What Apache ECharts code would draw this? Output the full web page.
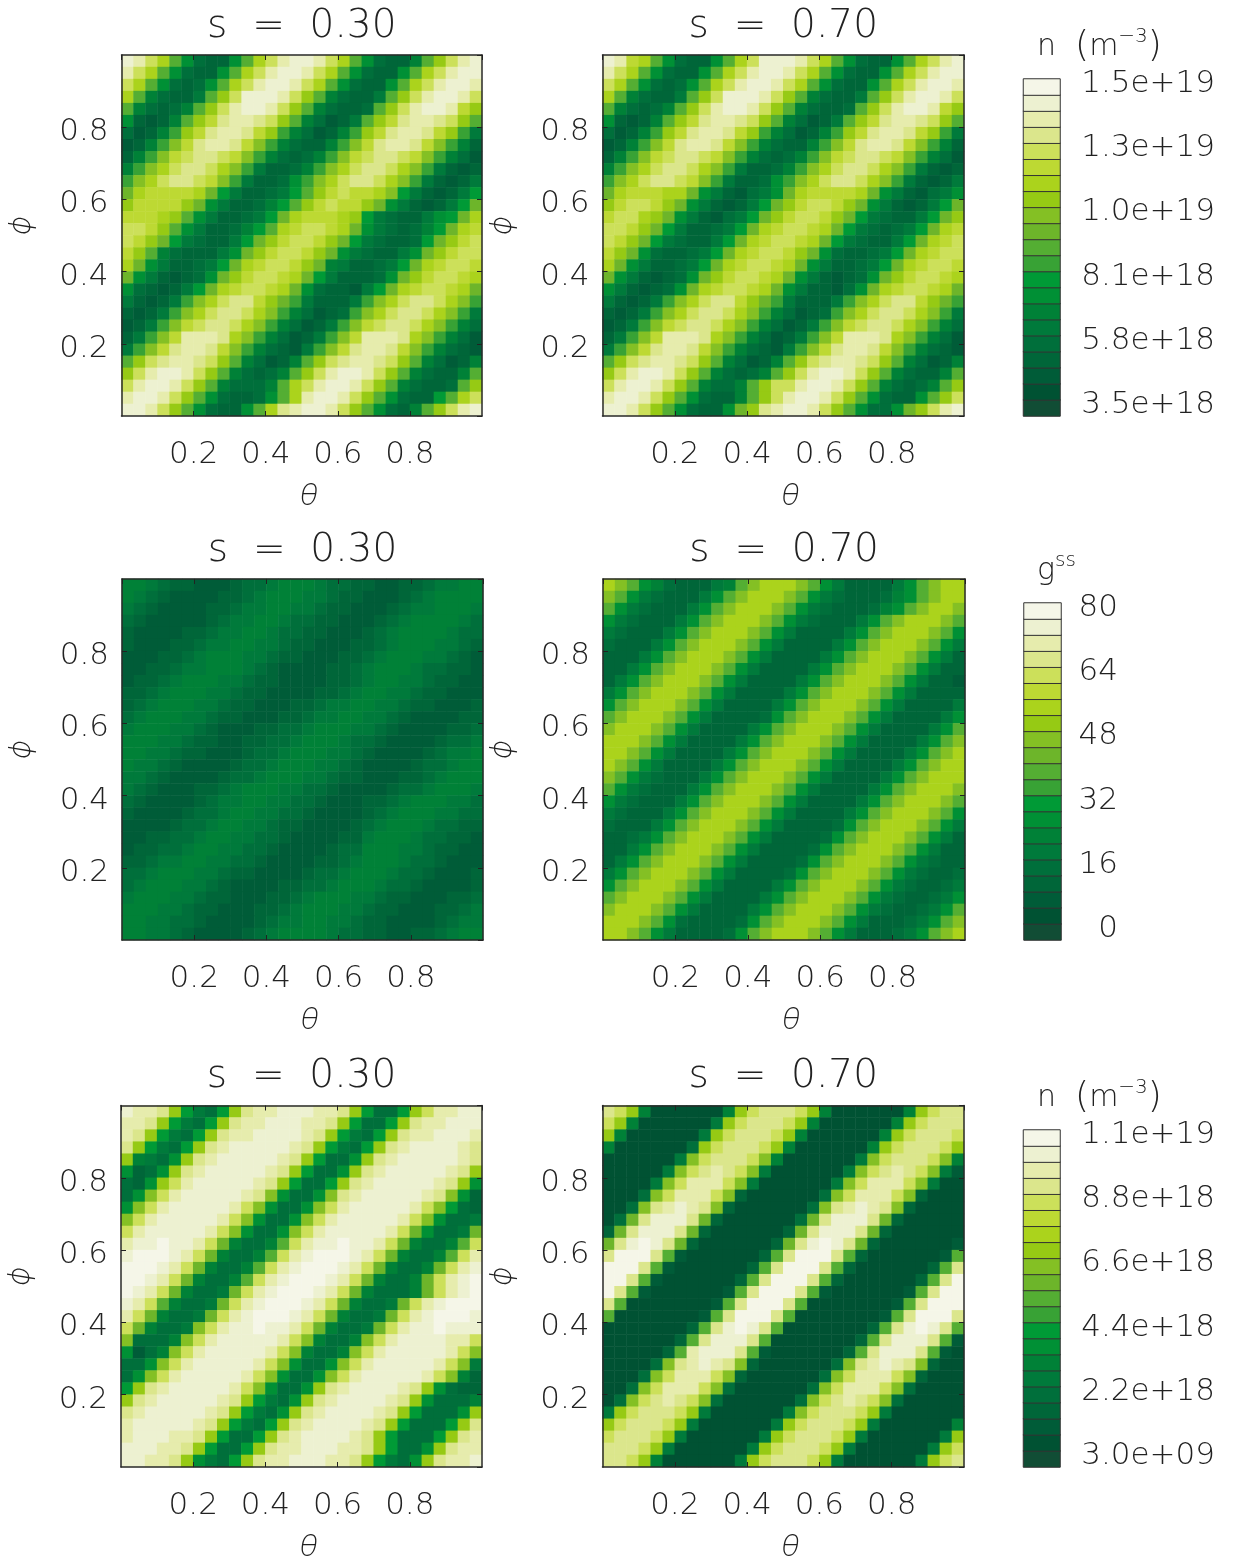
<!DOCTYPE html>
<html><head><meta charset="utf-8">
<style>html,body{margin:0;padding:0;background:#fff}#c{width:1233px;height:1559px}</style>
<script src="https://cdn.jsdelivr.net/npm/echarts@6/dist/echarts.min.js"></script>
</head><body><div id="c"></div>
<script>
// Colour-scale level (base-21 digit, 0..k) of each cell, rows listed from the top of the panel.
const densityS30 = [
"jigea74337 aegijjigea 74336adgij","igea74337a egijjigea7 4337aegijj","gea74347ae gijjigea74 337aegijji",
"ea64335adg jjjigda643 35adgijjig","a64346adgi jjigda6433 4adgijjifd","73236adfhi ihgda64235 adfhiihgda",
"42369dfhii hfd9642369 dfhiihfd95","2369cfhiih fc9643369c fhiihfc963","369cfghhgf c9643469cf ghhgfc9642",
"69ceghhgec 9533469ceg hhgec95323","9ceghhgfc9 533479cegh hgec953235","beffffeb85 33458adfgf fec8532358",
"dffffdb753 3468adfgff db7532358b","fffeda7533 458befffed 85433578be","ggfda75334 68aefggfeb 7543468bef",
"gfdb854335 8bdfggfdb8 543348bdfg","fda6433357 bdfggfdb75 43357bdfgg","eb7533458b efggfdb653 3458befggf",
"b7532347bd fggfeb8533 347bdfggfe","7432358bef ggfeb74332 58befggfeb","532359cegh hfdb953335 9ceghhgec9",
"32359ceghh gec9642349 ceghhgec95","2359cfghhg ec9642359c fghhgec964","359cfiiihe c9642359cf iiihec9642",
"59cfhiihfc 9643259cfh iihfc96432","adghiihgda 64236adghi ihgda64236","dgijjigda6 4346adgijj igda64336a",
"gijjigda64 446aegijji gda64334ad","ijjigda743 347aeijjig da74338aeg","jjigda7433 7aehijjigd a7436adgij"];
const densityS70 = [
"jifea74337 aegjjjigea 74337aegij","igea74337a egijjigea7 4337aegijj","gea74347ae gijjigea74 337aegijji",
"ea64335adg jjjigda643 35adgijjig","a64346adgi jjigda6433 4adgijjifd","73236adfhi ihgda64235 adfhiihgda",
"42369dfhii hfd9642369 dfhiihfd95","2369cfhiih fc9643369c fhiihfc963","369cfghhgf c9643469cf ghhgfc9642",
"69ceghhgec 9533469ceg hhgec95323","9ceghhgfc9 533479cegh hgec953235","befffeeb75 32457befff feb7532457",
"dfggfdb753 2358bdfggf db7532358b","fggedb7532 458bdfggfd b8543358bd","ggfdb85334 58befggfeb 8543458bef",
"gfdb854335 8befggfeb8 543358befg","fdb7433458 befggfdb74 33458befgg","eb7533458b efggfeb753 3458befggf",
"b7532347bd fggfeb7532 347bdfggfe","7532347bef ggfeb75332 47befggfeb","532359cegh hfdb953335 9ceghhfdb9",
"32359ceghh gec9642349 ceghhgec95","2359cfghhg ec9642359c fghhgec964","359cfiiihe c9642359cf iiihec9642",
"59cfhiihfc 9643259cfh iihfc96432","adghiihgda 64236adghi ihgda64236","dgijjigda6 4346adgijj igda64336a",
"gijjigda64 46adggijji gda64346ad","ijjigda743 36adgijjig da74337adg","jjigda7433 7bdhijjigd a7447bdgij"];
const metricS30 = [
"6654332223 4456665443 3223345566","6543222233 4566655433 2223456666","5432222334 5566554332 2234556665",
"4322222345 5665443322 2345666654","3222233455 6654433222 3456666544","3222334556 6554332223 3456665543",
"2223345666 5543322233 4566655432","2233455666 5432222334 5666544332","2334566655 4332222334 5665543322",
"3345666554 3322223345 6655433222","3456665543 3222334556 6554332223","4566655433 2223345566 5543222233",
"5666554322 2334456665 5432222334","6665543322 3344566654 4322223445","6655433222 3445666554 3222234556",
"6554322223 4456665543 2222344566","5543222234 4566655433 2223345666","5432223345 6665544322 2234456665",
"4322223455 6655443222 3345666554","3222234456 6554432222 3456665544","2222344566 5543322223 4566654433",
"2233445665 5443222233 5666544332","2334456655 4432222344 6665543322","3345566554 4322223345 6665443222",
"4456665543 3222234456 6654432223","4566655432 2223344566 6544322223","5666554332 2233456665 5433222334",
"6665543322 2334566655 4332223345","6655443222 2345566554 3322223455","6655432222 3456666544 3322334566"];
const metricS70 = [
"eca7643335 6aceeeca75 333357acee","ca75433357 aceeeca754 333467acee","a75433357a ceeeca7543 33467aceec",
"75433357ac eeeca75433 357aceeeca","5433357ace eeca753333 57aceeeca7","433357acee eca7533335 7aceeeca75",
"33357aceee ca75333357 aceeeca753","3357aceeec a75333357a ceeeca7533","357aceeeca 75333357ac eeeca75332",
"57aceeeca7 5333357ace eeca753333","7aceeeca75 333357acee eca7533335","aceeeca753 33347aceee ca75333357",
"ceeeca7533 3357aceeec a75333357a","eeeca75333 357aceeeca 75333357ac","eeca753333 57aceeeca7 5333357ace",
"eca7533335 7aceeeca75 333357acee","ca75433357 aceeeca753 33357aceee","a75433357a ceeeca7533 3357aceeec",
"75433357ac eeeca75333 357aceeeca","5433357ace eeca753333 57aceeeca7","433357acee eca7533334 7aceeeca75",
"33457aceee ca75333347 aceeeca753","3357aceeec a75333347a ceeeca7533","357aceeeca 75333347ac eeeca75433",
"57aceeeca7 5333347ace eeca754334","7aceeeca75 333357acee eca7543345","aceeeca753 33357aceee ca75433457",
"ceeeca7533 3357aceeec a75433457a","eeeca74333 347aceeeca 75333457ac","eeca753333 47aceeeca7 5333457ace"];
const electronS30 = [
"jiihd8548d hiijjjiihd 8448dgiijj","iihd8548dh iijjjiihd8 448dhiijjj","ihd8548dhi ijjjjihd85 48dhiijjji",
"hd8548dhij jjjjihd854 8dhijjjjih","d6547dhijj jjjihd8447 dhijjjjjih","7347dhijjj jjihd8447d hijjjjjihd",
"437dgijjjj jihd8448dh ijjjjjihd7","47cgijjjjj ihc7447chi jjjjjihc73","7cgijjjjji gc7447cgij jjjjigc843",
"cgijjjjjig c7447cgijj jjjigc7445","gijjjjjigc 7447cgijjj jjigb7445b","ijjkjjigb6 446agijjkj jigb6446ag",
"jkkkjigb64 46agijkkkj igb6446agi","kkkjigb644 6agijkkkji gb6446bgij","kkjigb6446 agijkkkjig b6446bgijk",
"kjigb6445b gijkkkjigb 64446bgijk","jiga6445bg ijkkkjigb6 445bgijkkk","igb6445bgi jkkkjigb64 45bgijkkkj",
"gb6445cgij jkjjigb644 5bgijjkjjj","c4446cgijj jjjigc6446 cgijjjjiig","7246cgijjj jjigc6446c gijjjjjigc",
"447cgijjjj jigc7447cg ijjjjjigc5","47cgijjjjj igc7447cgi jjjjjigc63","8dhijjjjji gc7447dhij jjjihd7433",
"dhijjjjjih d8547dhijj jjihd74446","hijjjjjihd 8547dhijjj jihd84447d","ijjjjjihd8 548dhijjjj ihd84448dh",
"ijjjiihd84 48dhijjjji hd84448dhi","jjjiihd844 8dhiijjjii hd8447dhii","jjiihd7548 dhiijjjiih d8547dhiij"];
const electronS70 = [
"hgd6111111 6dghhhgd61 111116dghh","gd61111115 dghhhgd611 11116dghhh","d61111115d ghhhgd6111 1116dghhhg",
"61111114dg hhhgd61111 116dghhhgd","1111115cgh hhgc611111 15cghhhgc6","111115cghi hgc5111111 5cghihgc52",
"11115cgiii gc51111115 cgiiigc511","1114cgiiig c31111114c giiigc3111","114chijihc 31111114ch ijihc31111",
"14bhjjjhb3 1111114bhj jjhb311111","3bhjjjhb31 111113bhjj jhb3111111","bhjkjhb311 11113bhjkj hb31111112",
"hkkkha2111 1113ahkkkh a31111112a","kkkha21111 113ahkkkha 31111113ah","kkha211111 13ahkkkha3 1111113ahk",
"kha2111111 2ahkkkha21 111112ahkk","ha11111112 ahkkkha111 11112ahkkk","a11111112a hkkkha1111 1112ahkkkh",
"11111113ah jkjha11111 113ahjkjha","1111113ahj jjha111111 13ahjjjha2","111113aijj jha2111111 3ahjjjha21",
"11114chiji hc31111114 chijihc311","1114cgiiig c31111114c giiigc3111","114cgiiigc 41111114cg iiigc41111",
"14cghihgc4 1111114cgh ihgc411111","5dghhhgd51 111115cghh hgd5111111","dghhhgd511 11115dghhh gd51111116",
"ghhhgd5111 1115dghhhg d51111115d","hhhgd51111 115dghhhgd 51111115dg","hhgd611111 15dghhhgd5 1111115dgh"];

const levels = ["0","1","2","3","4","5","6","7","8","9","10","11","12","13","14","15","16","17","18","19","20"];
const densityTickLabels = ["3.5e+18","5.8e+18","8.1e+18","1.0e+19","1.3e+19","1.5e+19"];
const metricTickLabels = ["0","16","32","48","64","80"];
const electronTickLabels = ["3.0e+09","2.2e+18","4.4e+18","6.6e+18","8.8e+18","1.1e+19"];
const palette = ["#114d35","#005233","#005c38","#006639","#006f3b","#007a3b","#008137","#009035","#009a36","#38a235",
"#54ae33","#6db52a","#84c024","#96ca14","#abd31c","#bdd933","#cce05a","#dbe68c","#e6ecad","#edf1d1","#f5f6e8"];

const FONT = "DejaVu Sans", W = 200, INK = "#222";
const panels = [
 {rows:densityS30,  s:"s  =  0.30", left:121.5, top:55,   right:482, bottom:416},
 {rows:densityS70,  s:"s  =  0.70", left:602.5, top:55,   right:964, bottom:416},
 {rows:metricS30,   s:"s  =  0.30", left:122,   top:579,  right:483, bottom:940},
 {rows:metricS70,   s:"s  =  0.70", left:603,   top:579,  right:965, bottom:940},
 {rows:electronS30, s:"s  =  0.30", left:121,   top:1105.5,right:482,bottom:1467},
 {rows:electronS70, s:"s  =  0.70", left:602.5, top:1105.5,right:964,bottom:1467}];
const bars = [
 {labels:densityTickLabels,  left:1023.5, top:79,  bottom:416, right:1060, margin:155},
 {labels:metricTickLabels,   left:1024,   top:603, bottom:940, right:1061, margin:57},
 {labels:electronTickLabels, left:1023.5, top:1130,bottom:1467,right:1060, margin:155}];

const cellIdx = Array.from({length:30},(_,i)=>String(i));
const grid=[],xAxis=[],yAxis=[],series=[],title=[];
const txt={fontFamily:FONT,fontWeight:W,color:INK};
const line={show:true,onZero:false,lineStyle:{color:"#2a2a2a",width:1.5}};
const tick={show:true,inside:true,length:5,lineStyle:{color:"#222",width:1}};
const greek={fontFamily:"Inter",fontStyle:"italic",fontWeight:W,fontSize:30,color:INK};

panels.forEach((p,i)=>{
  grid.push({outerBoundsMode:"none",left:p.left,top:p.top,width:p.right-p.left,height:p.bottom-p.top});
  const base={gridIndex:i,type:"value",min:0,max:1,interval:0.2,z:5,splitLine:{show:false},axisLine:line,axisTick:tick};
  xAxis.push({...base,position:"bottom",name:"θ",nameLocation:"middle",nameGap:65,
     nameTextStyle:{...greek,padding:[0,0,0,14]},
     axisLabel:{...txt,fontSize:31,margin:23,showMinLabel:false,showMaxLabel:false,formatter:v=>v.toFixed(1)}});
  xAxis.push({...base,position:"top",axisLabel:{show:false}});
  xAxis.push({gridIndex:i,type:"category",data:cellIdx,show:false});
  yAxis.push({...base,position:"left",name:"ϕ",nameLocation:"middle",nameGap:86,
     nameTextStyle:{...greek,padding:[0,0,0,20]},
     axisLabel:{...txt,fontSize:31,margin:13,verticalAlign:"top",lineHeight:10,showMinLabel:false,showMaxLabel:false,formatter:v=>v.toFixed(1)}});
  yAxis.push({...base,position:"right",axisLabel:{show:false}});
  yAxis.push({gridIndex:i,type:"category",data:cellIdx,show:false});
  const data=[];
  p.rows.forEach((r0,ri)=>{ const r=r0.replace(/ /g,""); for(let c=0;c<30;c++) data.push([c,29-ri,parseInt(r[c],21)]); });
  series.push({type:"heatmap",xAxisIndex:i*3+2,yAxisIndex:i*3+2,data,progressive:0,animation:false,
     emphasis:{disabled:true},itemStyle:{borderWidth:0}});
  title.push({text:p.s,left:(p.left+p.right)/2-5,top:p.top-53,textAlign:"center",
     textStyle:{...txt,fontSize:39}});
});

const xBase=18, yBase=18;
bars.forEach((b,k)=>{
  const g=grid.length;
  grid.push({outerBoundsMode:"none",left:b.left,top:b.top,width:b.right-b.left,height:b.bottom-b.top});
  xAxis.push({gridIndex:g,type:"category",data:["0"],show:false});
  yAxis.push({gridIndex:g,type:"category",data:levels,position:"right",axisLine:{show:false},axisTick:{show:false},
     splitLine:{show:false},
     axisLabel:{...txt,fontSize:31,interval:3,align:"right",verticalAlign:"bottom",lineHeight:6,margin:b.margin,
       formatter:(v)=>b.labels[Number(v)/4]}});
  series.push({type:"heatmap",xAxisIndex:xBase+k,yAxisIndex:yBase+k,animation:false,progressive:0,
     data:levels.map((l,i)=>[0,i,i]),emphasis:{disabled:true},
     itemStyle:{borderWidth:1,borderColor:"#333"}});
});
const barRich={a:{fontFamily:FONT,fontWeight:W,fontSize:30,color:INK},
  p:{fontFamily:FONT,fontWeight:W,fontSize:36,color:INK},
  b:{fontFamily:FONT,fontWeight:W,fontSize:20,color:INK,padding:[0,0,20,0]}};
title.push({text:"{a|n  }{p|(}{a|m}{b|−3}{p|)}",left:1032,top:22,textStyle:{rich:barRich}});
title.push({text:"{a|g}{b|ss}",left:1032,top:546,textStyle:{rich:barRich}});
title.push({text:"{a|n  }{p|(}{a|m}{b|−3}{p|)}",left:1032,top:1073,textStyle:{rich:barRich}});

const chart=echarts.init(document.getElementById("c"),null,{renderer:"canvas"});
chart.setOption({animation:false,backgroundColor:"#fff",title,grid,xAxis,yAxis,series,
  visualMap:{show:false,type:"piecewise",dimension:2,seriesIndex:series.map((_,i)=>i),
    pieces:palette.map((c,i)=>({value:i,color:c}))}});
</script></body></html>
